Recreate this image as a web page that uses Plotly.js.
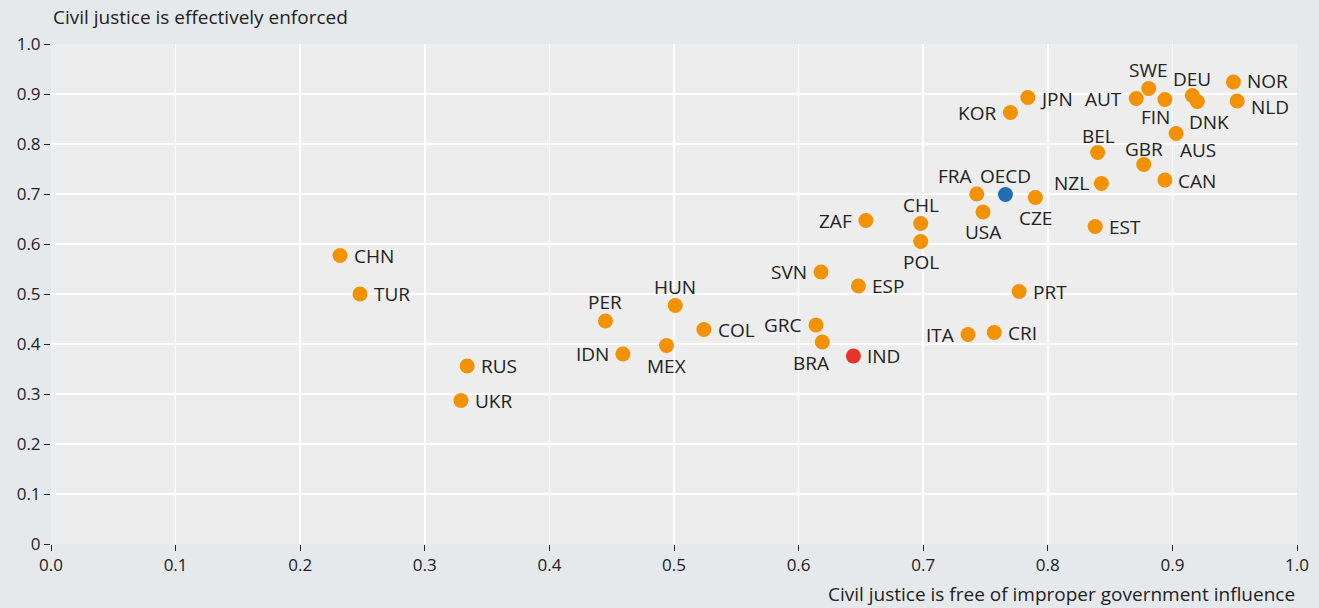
<!DOCTYPE html>
<html><head><meta charset="utf-8">
<script src="https://cdn.plot.ly/plotly-3.0.1.min.js"></script>
<style>html,body{margin:0;padding:0;background:#e6e9eb;}#chart{width:1319px;height:608px;}</style>
</head><body><div id="chart"></div>
<script>
const countries = ["CHN","TUR","RUS","UKR","PER","HUN","IDN","MEX","COL","SVN","ESP","GRC","BRA","IND","ZAF","CHL","POL","FRA","OECD","USA","CZE","PRT","ITA","CRI","KOR","JPN","NZL","EST","BEL","GBR","CAN","AUS","AUT","SWE","FIN","DEU","DNK","NOR","NLD"];
const freeOfInfluence = [0.232,0.248,0.334,0.329,0.445,0.501,0.459,0.494,0.524,0.618,0.648,0.614,0.619,0.644,0.654,0.698,0.698,0.743,0.766,0.748,0.790,0.777,0.736,0.757,0.770,0.784,0.843,0.838,0.840,0.877,0.894,0.903,0.871,0.881,0.894,0.916,0.920,0.949,0.952];
const enforced = [0.577,0.500,0.356,0.287,0.446,0.477,0.380,0.397,0.429,0.544,0.516,0.438,0.404,0.376,0.647,0.641,0.605,0.700,0.699,0.664,0.693,0.505,0.419,0.423,0.863,0.893,0.721,0.635,0.783,0.759,0.728,0.821,0.891,0.911,0.889,0.897,0.885,0.924,0.886];
const xTickVals = [0,0.1,0.2,0.3,0.4,0.5,0.6,0.7,0.8,0.9,1.0];
const xTickText = ["0.0","0.1","0.2","0.3","0.4","0.5","0.6","0.7","0.8","0.9","1.0"];
const yTickVals = [0,0.1,0.2,0.3,0.4,0.5,0.6,0.7,0.8,0.9,1.0];
const yTickText = ["0","0.1","0.2","0.3","0.4","0.5","0.6","0.7","0.8","0.9","1.0"];

// ---- styling (label placement, colours) ----
const R = ["left",12,0], L = ["right",-12,0], T = ["center",0,19], B = ["center",0,-20];
const labelStyle = {CHN:R,TUR:R,RUS:R,UKR:R,PER:T,HUN:T,IDN:L,MEX:B,COL:R,SVN:L,ESP:R,GRC:L,
  BRA:["center",-11,-21],IND:R,ZAF:L,CHL:T,POL:B,FRA:["center",-22,18],OECD:T,USA:B,CZE:B,PRT:R,ITA:L,CRI:R,
  KOR:L,JPN:["left",10,-1],NZL:["right",-10,1],EST:R,BEL:["center",1,17],GBR:["center",0,16],CAN:["left",11,-1],
  AUS:["center",22,-16],AUT:L,SWE:T,FIN:["center",-9,-17],DEU:["center",0,17],DNK:["center",12,-20],
  NOR:["left",12,1],NLD:["left",12,-6]};
const colorFor = c => c==="OECD" ? "#1f6db3" : (c==="IND" ? "#e6332a" : "#f39200");
const textColor = "#222222";
const fontFam = "Open Sans, sans-serif";

const trace = {
  type:"scatter", mode:"markers",
  x: freeOfInfluence, y: enforced, text: countries,
  marker:{size:15, color: countries.map(colorFor), line:{width:0}},
  cliponaxis:false, hoverinfo:"x+y+text"
};
const labelAnns = countries.map((c,i)=>{
  const s = labelStyle[c];
  return {x:freeOfInfluence[i], y:enforced[i], xref:"x", yref:"y", text:c, showarrow:false,
    xanchor:s[0], yanchor:"middle", xshift:s[1], yshift:s[2], font:{size:19, color:textColor, family:fontFam}};
});
const layout = {
  width:1319, height:608,
  paper_bgcolor:"#e6e9eb", plot_bgcolor:"#ededed",
  margin:{l:51, r:22, t:44, b:64},
  showlegend:false,
  font:{family:fontFam, size:17, color:textColor},
  xaxis:{range:[0,1], tickvals:xTickVals, ticktext:xTickText, showgrid:true, gridcolor:"#ffffff", gridwidth:1.5, zeroline:false, showline:false, ticks:"outside", ticklen:6, tickcolor:textColor, tickwidth:1, tickfont:{size:17}},
  yaxis:{range:[0,1], tickvals:yTickVals, ticktext:yTickText, showgrid:true, gridcolor:"#ffffff", gridwidth:1.5, zeroline:false, showline:false, ticks:"outside", ticklen:6, tickcolor:textColor, tickwidth:1, tickfont:{size:17}},
  annotations:[
    {text:"Civil justice is effectively enforced", xref:"paper", yref:"paper", x:0, y:1.054, xanchor:"left", yanchor:"middle", showarrow:false, font:{size:19}},
    {text:"Civil justice is free of improper government influence", xref:"paper", yref:"paper", x:1, y:-0.1, xanchor:"right", yanchor:"middle", showarrow:false, font:{size:19}}
  ].concat(labelAnns)
};
Plotly.newPlot("chart",[trace],layout,{displayModeBar:false,staticPlot:true});
</script></body></html>
